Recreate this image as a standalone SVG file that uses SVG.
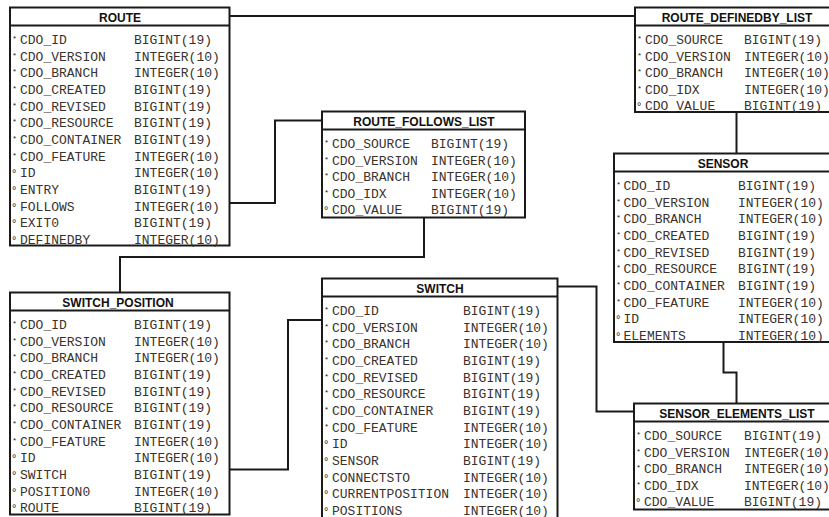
<svg xmlns="http://www.w3.org/2000/svg" width="829" height="517" viewBox="0 0 829 517">
<style>
.box{fill:#fff;stroke:#1a1a1a;stroke-width:2}
.hl{stroke:#1a1a1a;stroke-width:2}
.hd{font-family:"Liberation Sans",Arial,sans-serif;font-weight:bold;font-size:12px;fill:#111;text-anchor:middle}
.c{font-family:"Liberation Mono","Courier New",monospace;font-size:13px;fill:#3a322c}
.pk{font-family:"Liberation Sans",Arial,sans-serif;font-size:8px;fill:#222}
.fk{font-family:"Liberation Sans",Arial,sans-serif;font-size:11px;fill:#222}
.con{fill:none;stroke:#1a1a1a;stroke-width:2}
</style>
<rect width="829" height="517" fill="#fff"/>
<g id="connectors">
<path class="con" d="M230,16 H635"/>
<path class="con" d="M230,203 H275 V120.5 H322"/>
<path class="con" d="M424,218 V257 H120 V292.5"/>
<path class="con" d="M230,469.5 H288 V320 H343"/>
<path class="con" d="M557.5,286.5 H596.5 V411.5 H634"/>
<path class="con" d="M736.5,112 V153.5"/>
<path class="con" d="M723.5,342 V372.5 H736.5 V403.5"/>
</g>
<g id="ROUTE" transform="translate(10,7.5)">
<rect class="box" x="0" y="0" width="219.5" height="238"/>
<line class="hl" x1="0" y1="18" x2="219.5" y2="18"/>
<text class="hd" x="110" y="14">ROUTE</text>
<g class="c">
<text x="10" y="36.5">CDO_ID</text><text x="124" y="36.5">BIGINT(19)</text>
<text x="10" y="53.2">CDO_VERSION</text><text x="124" y="53.2">INTEGER(10)</text>
<text x="10" y="69.8">CDO_BRANCH</text><text x="124" y="69.8">INTEGER(10)</text>
<text x="10" y="86.5">CDO_CREATED</text><text x="124" y="86.5">BIGINT(19)</text>
<text x="10" y="103.2">CDO_REVISED</text><text x="124" y="103.2">BIGINT(19)</text>
<text x="10" y="119.8">CDO_RESOURCE</text><text x="124" y="119.8">BIGINT(19)</text>
<text x="10" y="136.5">CDO_CONTAINER</text><text x="124" y="136.5">BIGINT(19)</text>
<text x="10" y="153.2">CDO_FEATURE</text><text x="124" y="153.2">INTEGER(10)</text>
<text x="10" y="169.8">ID</text><text x="124" y="169.8">INTEGER(10)</text>
<text x="10" y="186.5">ENTRY</text><text x="124" y="186.5">BIGINT(19)</text>
<text x="10" y="203.2">FOLLOWS</text><text x="124" y="203.2">INTEGER(10)</text>
<text x="10" y="219.8">EXIT0</text><text x="124" y="219.8">BIGINT(19)</text>
<text x="10" y="236.5">DEFINEDBY</text><text x="124" y="236.5">INTEGER(10)</text>
</g>
<g class="pk">
<text x="3" y="33.5">*</text><text x="3" y="50.2">*</text><text x="3" y="66.8">*</text><text x="3" y="83.5">*</text><text x="3" y="100.2">*</text><text x="3" y="116.8">*</text><text x="3" y="133.5">*</text><text x="3" y="150.2">*</text>
</g>
<g class="fk">
<text x="2" y="169.8">°</text><text x="2" y="186.5">°</text><text x="2" y="203.2">°</text><text x="2" y="219.8">°</text><text x="2" y="236.5">°</text>
</g>
</g>
<g id="ROUTE_DEFINEDBY_LIST" transform="translate(635,7.5)">
<rect class="box" x="0" y="0" width="204" height="104.5"/>
<line class="hl" x1="0" y1="18" x2="204" y2="18"/>
<text class="hd" x="102" y="14">ROUTE_DEFINEDBY_LIST</text>
<g class="c">
<text x="10" y="36.5">CDO_SOURCE</text><text x="109" y="36.5">BIGINT(19)</text>
<text x="10" y="53.1">CDO_VERSION</text><text x="109" y="53.1">INTEGER(10)</text>
<text x="10" y="69.7">CDO_BRANCH</text><text x="109" y="69.7">INTEGER(10)</text>
<text x="10" y="86.3">CDO_IDX</text><text x="109" y="86.3">INTEGER(10)</text>
<text x="10" y="102.9">CDO_VALUE</text><text x="109" y="102.9">BIGINT(19)</text>
</g>
<g class="pk"><text x="3" y="33.5">*</text><text x="3" y="50.1">*</text><text x="3" y="66.7">*</text><text x="3" y="83.3">*</text></g>
<g class="fk"><text x="2" y="102.9">°</text></g>
</g>
<g id="ROUTE_FOLLOWS_LIST" transform="translate(322,111.5)">
<rect class="box" x="0" y="0" width="203" height="106"/>
<line class="hl" x1="0" y1="18" x2="203" y2="18"/>
<text class="hd" x="102" y="14">ROUTE_FOLLOWS_LIST</text>
<g class="c">
<text x="10" y="36.5">CDO_SOURCE</text><text x="109" y="36.5">BIGINT(19)</text>
<text x="10" y="53.1">CDO_VERSION</text><text x="109" y="53.1">INTEGER(10)</text>
<text x="10" y="69.7">CDO_BRANCH</text><text x="109" y="69.7">INTEGER(10)</text>
<text x="10" y="86.3">CDO_IDX</text><text x="109" y="86.3">INTEGER(10)</text>
<text x="10" y="102.9">CDO_VALUE</text><text x="109" y="102.9">BIGINT(19)</text>
</g>
<g class="pk"><text x="3" y="33.5">*</text><text x="3" y="50.1">*</text><text x="3" y="66.7">*</text><text x="3" y="83.3">*</text></g>
<g class="fk"><text x="2" y="102.9">°</text></g>
</g>
<g id="SENSOR" transform="translate(614,153.5)">
<rect class="box" x="0" y="0" width="218" height="188.5"/>
<line class="hl" x1="0" y1="18" x2="218" y2="18"/>
<text class="hd" x="109" y="14">SENSOR</text>
<g class="c">
<text x="9.5" y="36.5">CDO_ID</text><text x="124" y="36.5">BIGINT(19)</text>
<text x="9.5" y="53.2">CDO_VERSION</text><text x="124" y="53.2">INTEGER(10)</text>
<text x="9.5" y="69.8">CDO_BRANCH</text><text x="124" y="69.8">INTEGER(10)</text>
<text x="9.5" y="86.5">CDO_CREATED</text><text x="124" y="86.5">BIGINT(19)</text>
<text x="9.5" y="103.2">CDO_REVISED</text><text x="124" y="103.2">BIGINT(19)</text>
<text x="9.5" y="119.8">CDO_RESOURCE</text><text x="124" y="119.8">BIGINT(19)</text>
<text x="9.5" y="136.5">CDO_CONTAINER</text><text x="124" y="136.5">BIGINT(19)</text>
<text x="9.5" y="153.2">CDO_FEATURE</text><text x="124" y="153.2">INTEGER(10)</text>
<text x="9.5" y="169.8">ID</text><text x="124" y="169.8">INTEGER(10)</text>
<text x="9.5" y="186.5">ELEMENTS</text><text x="124" y="186.5">INTEGER(10)</text>
</g>
<g class="pk">
<text x="3" y="33.5">*</text><text x="3" y="50.2">*</text><text x="3" y="66.8">*</text><text x="3" y="83.5">*</text><text x="3" y="100.2">*</text><text x="3" y="116.8">*</text><text x="3" y="133.5">*</text><text x="3" y="150.2">*</text>
</g>
<g class="fk"><text x="2" y="169.8">°</text><text x="2" y="186.5">°</text></g>
</g>
<g id="SWITCH_POSITION" transform="translate(10,292.5)">
<rect class="box" x="0" y="0" width="219.5" height="222"/>
<line class="hl" x1="0" y1="18" x2="219.5" y2="18"/>
<text class="hd" x="108" y="14">SWITCH_POSITION</text>
<g class="c">
<text x="10" y="36.5">CDO_ID</text><text x="124" y="36.5">BIGINT(19)</text>
<text x="10" y="53.2">CDO_VERSION</text><text x="124" y="53.2">INTEGER(10)</text>
<text x="10" y="69.8">CDO_BRANCH</text><text x="124" y="69.8">INTEGER(10)</text>
<text x="10" y="86.5">CDO_CREATED</text><text x="124" y="86.5">BIGINT(19)</text>
<text x="10" y="103.2">CDO_REVISED</text><text x="124" y="103.2">BIGINT(19)</text>
<text x="10" y="119.8">CDO_RESOURCE</text><text x="124" y="119.8">BIGINT(19)</text>
<text x="10" y="136.5">CDO_CONTAINER</text><text x="124" y="136.5">BIGINT(19)</text>
<text x="10" y="153.2">CDO_FEATURE</text><text x="124" y="153.2">INTEGER(10)</text>
<text x="10" y="169.8">ID</text><text x="124" y="169.8">INTEGER(10)</text>
<text x="10" y="186.5">SWITCH</text><text x="124" y="186.5">BIGINT(19)</text>
<text x="10" y="203.2">POSITION0</text><text x="124" y="203.2">INTEGER(10)</text>
<text x="10" y="219.8">ROUTE</text><text x="124" y="219.8">BIGINT(19)</text>
</g>
<g class="pk">
<text x="3" y="33.5">*</text><text x="3" y="50.2">*</text><text x="3" y="66.8">*</text><text x="3" y="83.5">*</text><text x="3" y="100.2">*</text><text x="3" y="116.8">*</text><text x="3" y="133.5">*</text><text x="3" y="150.2">*</text>
</g>
<g class="fk"><text x="2" y="169.8">°</text><text x="2" y="186.5">°</text><text x="2" y="203.2">°</text><text x="2" y="219.8">°</text></g>
</g>
<g id="SWITCH" transform="translate(322,278.5)">
<rect class="box" x="0" y="0" width="235.5" height="260"/>
<line class="hl" x1="0" y1="18" x2="235.5" y2="18"/>
<text class="hd" x="118" y="14">SWITCH</text>
<g class="c">
<text x="10" y="36.5">CDO_ID</text><text x="141" y="36.5">BIGINT(19)</text>
<text x="10" y="53.2">CDO_VERSION</text><text x="141" y="53.2">INTEGER(10)</text>
<text x="10" y="69.8">CDO_BRANCH</text><text x="141" y="69.8">INTEGER(10)</text>
<text x="10" y="86.5">CDO_CREATED</text><text x="141" y="86.5">BIGINT(19)</text>
<text x="10" y="103.2">CDO_REVISED</text><text x="141" y="103.2">BIGINT(19)</text>
<text x="10" y="119.8">CDO_RESOURCE</text><text x="141" y="119.8">BIGINT(19)</text>
<text x="10" y="136.5">CDO_CONTAINER</text><text x="141" y="136.5">BIGINT(19)</text>
<text x="10" y="153.2">CDO_FEATURE</text><text x="141" y="153.2">INTEGER(10)</text>
<text x="10" y="169.8">ID</text><text x="141" y="169.8">INTEGER(10)</text>
<text x="10" y="186.5">SENSOR</text><text x="141" y="186.5">BIGINT(19)</text>
<text x="10" y="203.2">CONNECTSTO</text><text x="141" y="203.2">INTEGER(10)</text>
<text x="10" y="219.8">CURRENTPOSITION</text><text x="141" y="219.8">INTEGER(10)</text>
<text x="10" y="236.5">POSITIONS</text><text x="141" y="236.5">INTEGER(10)</text>
</g>
<g class="pk">
<text x="3" y="33.5">*</text><text x="3" y="50.2">*</text><text x="3" y="66.8">*</text><text x="3" y="83.5">*</text><text x="3" y="100.2">*</text><text x="3" y="116.8">*</text><text x="3" y="133.5">*</text><text x="3" y="150.2">*</text>
</g>
<g class="fk"><text x="2" y="169.8">°</text><text x="2" y="186.5">°</text><text x="2" y="203.2">°</text><text x="2" y="219.8">°</text><text x="2" y="236.5">°</text></g>
</g>
<g id="SENSOR_ELEMENTS_LIST" transform="translate(634,403.5)">
<rect class="box" x="0" y="0" width="205" height="106"/>
<line class="hl" x1="0" y1="18" x2="205" y2="18"/>
<text class="hd" x="103" y="14">SENSOR_ELEMENTS_LIST</text>
<g class="c">
<text x="10" y="36.5">CDO_SOURCE</text><text x="110" y="36.5">BIGINT(19)</text>
<text x="10" y="53.1">CDO_VERSION</text><text x="110" y="53.1">INTEGER(10)</text>
<text x="10" y="69.7">CDO_BRANCH</text><text x="110" y="69.7">INTEGER(10)</text>
<text x="10" y="86.3">CDO_IDX</text><text x="110" y="86.3">INTEGER(10)</text>
<text x="10" y="102.9">CDO_VALUE</text><text x="110" y="102.9">BIGINT(19)</text>
</g>
<g class="pk"><text x="3" y="33.5">*</text><text x="3" y="50.1">*</text><text x="3" y="66.7">*</text><text x="3" y="83.3">*</text></g>
<g class="fk"><text x="2" y="102.9">°</text></g>
</g>
</svg>
